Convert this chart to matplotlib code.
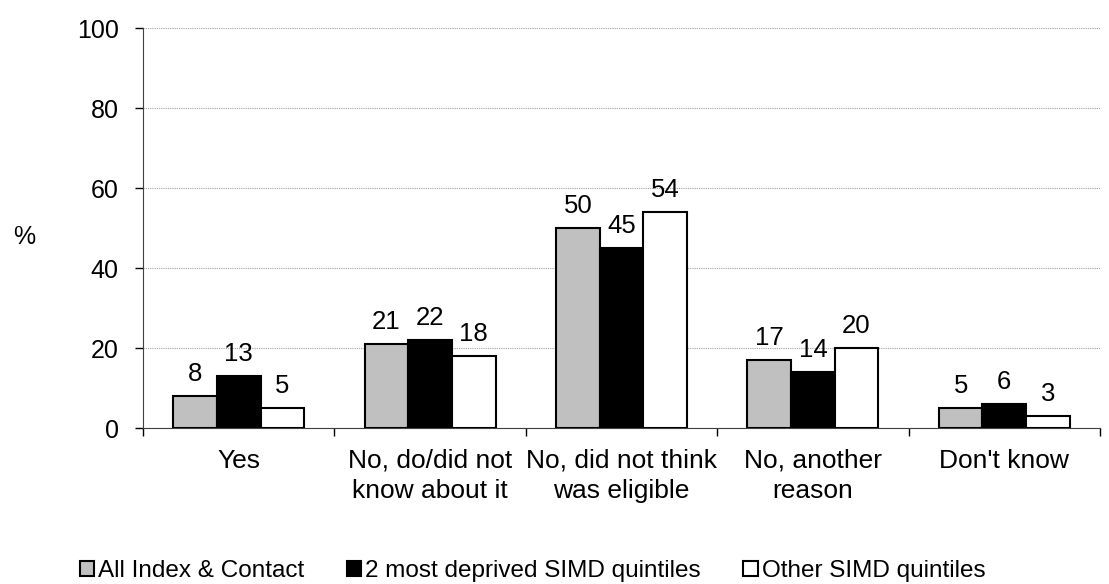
import numpy as np
import matplotlib.pyplot as plt
from matplotlib.patches import Patch

plt.rcParams['font.family'] = ['Liberation Sans', 'DejaVu Sans']

categories = ["Yes", "No, do/did not\nknow about it", "No, did not think\nwas eligible",
              "No, another\nreason", "Don't know"]
series_names = ["All Index & Contact", "2 most deprived SIMD quintiles", "Other SIMD quintiles"]
all_index = [8, 21, 50, 17, 5]
deprived = [13, 22, 45, 14, 6]
other = [5, 18, 54, 20, 3]
colors = ["#c0c0c0", "#000000", "#ffffff"]

fig = plt.figure(figsize=(11.09, 5.84), dpi=100)
ax = fig.add_axes([143 / 1109, 1 - 428 / 584, (1100 - 143) / 1109, 400 / 584])

x = np.arange(len(categories))
w = 0.228
for i, (vals, c) in enumerate(zip([all_index, deprived, other], colors)):
    pos = x + (i - 1) * w
    ax.bar(pos, vals, w, color=c, edgecolor="black", linewidth=1.5, zorder=3)
    for p, v in zip(pos, vals):
        ax.annotate(str(v), (p, v), xytext=(0, 11), textcoords="offset points",
                    ha="center", va="baseline", fontsize=18.5)

ax.set_xlim(-0.5, len(categories) - 0.5)
ax.set_ylim(0, 100)
ax.set_yticks(range(0, 101, 20))
ax.yaxis.grid(True, linestyle=(0, (1, 1)), color="#a0a0a0", linewidth=0.8, zorder=0)
ax.tick_params(axis="y", labelsize=18, length=6, width=1, pad=11.5)

ax.set_xticks(x)
ax.set_xticklabels(categories, fontsize=19, linespacing=1.35)
ax.tick_params(axis="x", length=0, pad=15)
ax.set_xticks(np.arange(len(categories) + 1) - 0.5, minor=True)
ax.tick_params(axis="x", which="minor", length=6, width=1, direction="out")

for s in ["top", "right"]:
    ax.spines[s].set_visible(False)
ax.spines["left"].set_color("#404040")
ax.spines["bottom"].set_color("#404040")

fig.text(24 / 1109, 1 - 237 / 584, "%", fontsize=18, ha="center", va="center")

handles = [Patch(facecolor=c, edgecolor="black", linewidth=1.5) for c in colors]
fig.legend(handles, series_names, loc="center left", bbox_to_anchor=(80 / 1109, 1 - 571 / 584),
           ncol=3, frameon=False, fontsize=17.5, handlelength=0.58, handleheight=0.58,
           handletextpad=0.17, columnspacing=1.75, borderpad=0, borderaxespad=0)

fig.savefig("out.png", dpi=100)
